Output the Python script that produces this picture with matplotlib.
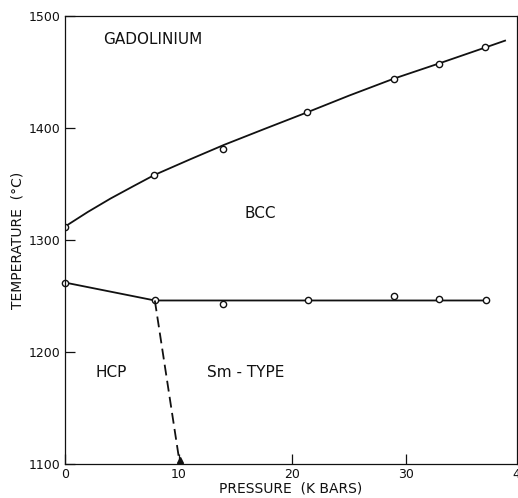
"""Pressure-temperature phase diagram of gadolinium (melting curve, BCC,
HCP and Sm-type fields), drawn in the plain style of a lettered journal figure."""

import matplotlib

matplotlib.use("Agg")
import matplotlib.pyplot as plt  # noqa: E402

# melting curve: measured points and the hand-faired line through them
melt_p = [0, 7.85, 13.9, 21.3, 28.9, 32.9, 36.9]
melt_t = [1312, 1358, 1381, 1414, 1444, 1457, 1472]
melt_line_p = [0, 2, 4, 6, 7.85, 11, 14, 17.5, 21.3, 25, 28.9, 33, 37, 38.7]
melt_line_t = [1312, 1325, 1337, 1348, 1358, 1372, 1385, 1399, 1414, 1429,
               1444, 1458, 1472, 1478]

# solid-solid transition into BCC
trans_p = [0, 7.9, 13.9, 21.4, 28.9, 32.9, 37.0]
trans_t = [1262, 1246, 1243, 1246, 1250, 1247, 1246]
trans_line_p = [0, 7.9, 37.0]
trans_line_t = [1262, 1246, 1246]

# HCP / Sm-type boundary (estimated, dashed)
hcp_sm_p = [7.9, 10.1]
hcp_sm_t = [1246, 1100]

x_ticks = [0, 10, 20, 30]
y_ticks = [1100, 1200, 1300, 1400, 1500]

INK = "#111111"
plt.rcParams["font.family"] = ["DejaVu Sans"]

fig = plt.figure(figsize=(5.18, 4.98), dpi=100)
fig.patch.set_facecolor("white")
ax = fig.add_axes([65 / 518, 34 / 498, 452 / 518, 448 / 498])

ax.plot(melt_line_p, melt_line_t, color=INK, lw=1.3, solid_joinstyle="round")
ax.plot(melt_p, melt_t, "o", ms=4.5, mfc="white", mec=INK, mew=1.0)

ax.plot(trans_line_p, trans_line_t, color=INK, lw=1.3)
ax.plot(trans_p, trans_t, "o", ms=4.5, mfc="white", mec=INK, mew=1.0, clip_on=False)

ax.plot(hcp_sm_p, hcp_sm_t, color=INK, lw=1.3, dashes=(6, 3))
ax.plot([hcp_sm_p[-1]], [hcp_sm_t[-1] + 4], marker="^", ms=5, color=INK)

ax.set_xlim(0, 39.75)
ax.set_ylim(1100, 1500)
ax.set_xticks(x_ticks)
ax.set_yticks(y_ticks)
ax.tick_params(direction="in", length=7, width=0.9, colors=INK, labelsize=9)
ax.tick_params(axis="x", pad=3)
ax.tick_params(axis="y", pad=3)
# the 40 label sits just past the right spine, running off the figure edge
ax.annotate("40", xy=(40, 0), xycoords=("data", "axes fraction"),
            xytext=(0, -3), textcoords="offset points", ha="center", va="top",
            fontsize=9, color=INK, annotation_clip=False)
for s in ax.spines.values():
    s.set_linewidth(0.9)
    s.set_color(INK)

ax.set_xlabel("PRESSURE  (K BARS)", fontsize=10, color=INK, labelpad=0)
ax.set_ylabel("TEMPERATURE  (°C)", fontsize=10, color=INK, labelpad=3)

ax.text(7.7, 1479, "GADOLINIUM", ha="center", va="center", fontsize=11, color=INK)
ax.text(17.2, 1324, "BCC", ha="center", va="center", fontsize=11, color=INK)
ax.text(4.1, 1182, "HCP", ha="center", va="center", fontsize=11, color=INK)
ax.text(15.9, 1182, "Sm - TYPE", ha="center", va="center", fontsize=11, color=INK)

fig.savefig("out.png", dpi=100, facecolor="white")
